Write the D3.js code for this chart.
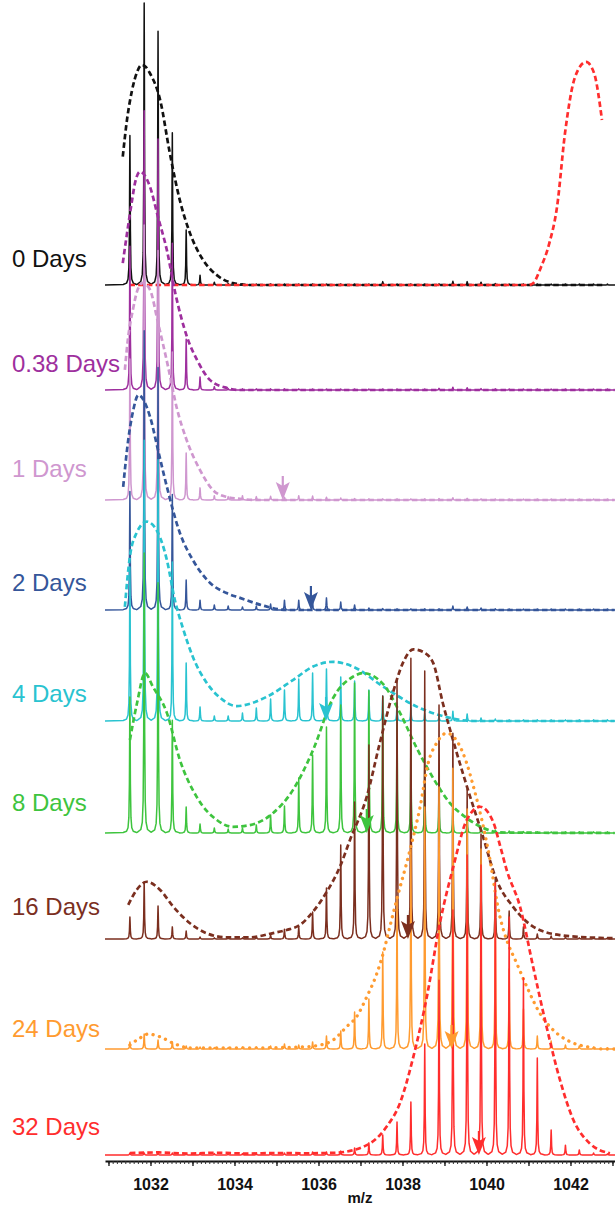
<!DOCTYPE html>
<html>
<head>
<meta charset="utf-8">
<script src="https://cdn.jsdelivr.net/npm/d3@7"></script>
<style>
  body { margin: 0; background: #fff; }
  svg { display: block; }
</style>
</head>
<body>
<div id="chart"></div>
<script>
// sample names
const days = ["0 Days", "0.38 Days", "1 Days", "2 Days", "4 Days", "8 Days", "16 Days", "24 Days", "32 Days"];
const colors = ["#111111", "#9e2f9e", "#cf97cf", "#35569a", "#29c3d0", "#3ec43e", "#7b2f1f", "#ff9b30", "#ff2d2d"];

// isotope peak positions (m/z, 3+ ion)
const isoMz = [1031.51, 1031.85, 1032.18, 1032.52, 1032.85, 1033.18, 1033.52, 1033.85, 1034.19, 1034.52,
  1034.86, 1035.19, 1035.53, 1035.86, 1036.19, 1036.53, 1036.86, 1037.20, 1037.53, 1037.87,
  1038.20, 1038.53, 1038.87, 1039.20, 1039.54, 1039.87, 1040.21, 1040.54, 1040.88, 1041.21,
  1041.54, 1041.88, 1042.21, 1042.55, 1042.88];

// peak intensities (relative %), one per isotope peak
const spec0d   = [53, 100, 90, 54, 19.5, 3.5, 1, 0.5, 0.4, 0.3, 0.3, 0.3, 0.3, 0.3, 0.3, 0.3, 0.3, 0.3, 1.2, 0.3, 0.3, 0.3, 0.4, 1.3, 1.2, 1.0, 0.5, 0.3, 0.3, 0.3, 0.3, 0.3, 0.3, 0.3, 0.3];
const spec038d = [51, 99, 89, 52, 18, 4.6, 1.2, 0.5, 0.4, 0.4, 0.4, 0.4, 0.4, 0.3, 0.3, 0.3, 0.3, 0.3, 0.3, 0.3, 0.3, 0.3, 0.6, 1.0, 0.8, 0.5, 0.4, 0.3, 0.3, 0.3, 0.3, 0.3, 0.3, 0.3, 0.3];
const spec1d   = [50, 97.5, 88.5, 52.5, 16.7, 4.3, 1.5, 1.2, 1.5, 1.2, 1.3, 1.0, 1.5, 1.4, 1.0, 0.7, 0.5, 0.4, 0.4, 0.4, 0.4, 0.4, 0.5, 0.8, 0.6, 0.4, 0.3, 0.3, 0.3, 0.3, 0.3, 0.3, 0.3, 0.3, 0.3];
const spec2d   = [42, 99, 86, 41, 10.6, 3.5, 1.8, 1.4, 1.1, 1.4, 2.1, 3.5, 3.5, 2.8, 4.3, 2.8, 1.8, 0.7, 0.5, 0.4, 0.4, 0.4, 0.4, 1.4, 1.1, 0.7, 0.4, 0.3, 0.3, 0.3, 0.3, 0.3, 0.3, 0.3, 0.3];
const spec4d   = [54.6, 99.6, 92.6, 56.4, 20.6, 5, 1.8, 1.8, 2.8, 4.6, 7.8, 11, 14.9, 17, 18.4, 15.6, 14.2, 11, 8.9, 6.4, 4.6, 2.8, 1.8, 3.5, 2.5, 1.1, 0.7, 0.4, 0.4, 0.4, 0.4, 0.4, 0.4, 0.4, 0.4];
const spec8d   = [48.2, 99.3, 88.7, 40, 9.2, 3.2, 1.8, 1.4, 1.8, 2.8, 6.4, 9.6, 19.5, 27.7, 37.6, 45.4, 53.2, 50.4, 48.2, 40.8, 31.2, 23.4, 16, 8.9, 6.4, 2.1, 1.1, 0.7, 0.5, 0.4, 0.4, 0.4, 0.4, 0.4, 0.4];
const spec16d  = [7.8, 20.2, 11.7, 4.3, 2.8, 0.7, 0.4, 0.4, 0.4, 0.7, 1.4, 3.5, 4.3, 9.6, 18.1, 33.3, 48.6, 68.8, 86.2, 91.5, 99.6, 95, 83, 73, 53.2, 37.2, 21.3, 9.9, 4.3, 1.8, 1.1, 0.7, 0.4, 0.4, 0.4];
const spec24d  = [2.5, 5.3, 3.2, 2.5, 1.1, 0.7, 0.5, 0.5, 0.7, 0.7, 1.1, 1.8, 1.4, 2.5, 4.6, 6.4, 13.1, 17.7, 34.4, 53.2, 70.9, 85.8, 92.9, 99.6, 85.1, 70.9, 49.6, 28.4, 14.2, 4.6, 2.8, 1.4, 1.1, 0.7, 0.4];
const spec32d  = [0.7, 0.7, 0.7, 0.7, 0.5, 0.5, 0.5, 0.5, 0.5, 0.5, 0.5, 0.7, 0.7, 1.1, 1.1, 1.4, 2.5, 4.3, 7.1, 11.7, 18.8, 39.4, 62, 86.9, 106.4, 102.8, 96.5, 84.4, 62.8, 34.4, 8.9, 3.5, 1.8, 0.7, 0.4];

// fitted envelopes [m/z, intensity]
const env0d = [[1031.34,45.5],[1031.44,58.5],[1031.56,69],[1031.68,75.5],[1031.79,78],[1031.89,77.3],[1031.99,75],[1032.23,65.6],[1032.46,46.8],[1032.70,30],[1032.94,18.4],[1033.25,8.9],[1033.58,3.5],[1033.96,0.7],[1034.37,0],[1038.5,0],[1042.80,0]];
const env038d = [[1031.34,45],[1031.43,54.4],[1031.55,66.2],[1031.63,73.3],[1031.75,77.4],[1031.99,72],[1032.18,61.3],[1032.39,49.6],[1032.59,34.4],[1032.87,18.8],[1033.11,10.6],[1033.42,3.5],[1033.82,0.7],[1034.13,0],[1038.5,0],[1043.05,0]];
const env1d = [[1031.39,46.1],[1031.46,56.7],[1031.58,67.4],[1031.70,74.8],[1031.82,77],[1031.99,74.5],[1032.18,62.8],[1032.42,47.2],[1032.62,33],[1032.86,21.3],[1033.18,10.6],[1033.49,3.5],[1033.81,1.1],[1034.13,0.4],[1034.6,0],[1043.05,0]];
const env2d = [[1031.35,43.7],[1031.47,60.3],[1031.59,70.9],[1031.71,76.2],[1031.99,68.5],[1032.18,56.7],[1032.39,43.7],[1032.70,27.3],[1033.01,17.7],[1033.42,9.6],[1033.81,6],[1034.13,4.3],[1034.77,1.2],[1035.24,0],[1043.05,0]];
const env4d = [[1031.39,40.5],[1031.51,58.3],[1031.67,66.7],[1031.91,70.7],[1032.18,66.7],[1032.39,57.1],[1032.58,42.9],[1032.77,33],[1033.01,22.7],[1033.34,13.5],[1033.66,8.2],[1034.05,5.3],[1034.77,8.6],[1035.39,14.5],[1035.87,19.3],[1036.35,21],[1036.82,19.3],[1037.54,12.2],[1038.34,5.1],[1039.13,1.1],[1039.68,0],[1043.05,0]];
const env8d = [[1031.51,33],[1031.68,46.1],[1031.87,56.7],[1032.06,51.8],[1032.39,42.6],[1032.70,25.9],[1033.10,12.8],[1033.58,4.6],[1033.96,2.2],[1034.37,2.8],[1034.92,7.1],[1035.39,15.2],[1035.87,29.4],[1036.35,47.9],[1036.82,55.4],[1037.06,56.7],[1037.54,52.8],[1037.94,42.6],[1038.34,30.1],[1038.73,19.5],[1039.13,10.6],[1039.53,5.3],[1039.92,1.8],[1040.32,0.2],[1043.05,0]];
const env16d = [[1031.47,12.1],[1031.67,17.4],[1031.91,20.3],[1032.23,17.4],[1032.54,11.5],[1032.94,5.6],[1033.34,2],[1033.81,0.6],[1034.37,0.6],[1034.92,2.1],[1035.24,3.2],[1035.56,5],[1035.87,9.7],[1036.20,16.8],[1036.51,25.6],[1036.75,35.1],[1037.15,50.5],[1037.46,69.5],[1037.77,87.2],[1038.01,97.9],[1038.26,102.7],[1038.49,101.8],[1038.73,97.9],[1038.96,83.7],[1039.29,66.1],[1039.61,50.5],[1039.89,37.6],[1040.24,20.9],[1040.63,11.5],[1041.11,4.4],[1041.75,1.4],[1042.70,0.4],[1043.05,0.3]];
const env24d = [[1031.51,1.4],[1031.75,3.9],[1031.94,5.3],[1032.23,4.3],[1032.58,1.8],[1032.94,0.4],[1034.37,0.4],[1035.56,0.7],[1036.04,1.4],[1036.35,3.2],[1036.67,7.9],[1036.91,11.5],[1037.15,18.5],[1037.39,26.8],[1037.54,33.9],[1037.70,43.4],[1037.86,52.8],[1038.18,70.6],[1038.42,85.9],[1038.61,101.3],[1038.81,108.4],[1039.05,112],[1039.33,108.4],[1039.53,101.3],[1039.69,93],[1039.89,81.2],[1040.04,70.6],[1040.32,46.9],[1040.48,38.7],[1040.72,30.4],[1040.96,22.1],[1041.27,12.7],[1041.59,6.7],[1041.99,2.6],[1042.39,0.8],[1042.86,0],[1043.05,0]];
const env32d = [[1031.51,0.7],[1032.2,0.9],[1032.9,0.5],[1033.6,0.8],[1034.3,0.5],[1035.0,0.7],[1035.7,0.6],[1036.4,0.8],[1037.15,3.5],[1037.62,10],[1037.94,18.4],[1038.26,34.9],[1038.58,56.1],[1038.89,82.2],[1039.21,102.2],[1039.53,118.8],[1039.85,123.5],[1040.16,118.1],[1040.32,109.9],[1040.48,101.1],[1040.80,88],[1041.11,66.8],[1041.43,45.5],[1041.75,26.6],[1042.07,12.4],[1042.46,4.1],[1042.94,0.6]];

// theoretical fully exchanged distribution, drawn on the 0 Days trace
const theory0d = [[1031.5,0],[1036,0],[1040.99,0],[1041.1,0.5],[1041.3,6.4],[1041.5,15],[1041.68,27.7],[1041.87,53.9],[1042.11,73.8],[1042.37,79.1],[1042.56,75.2],[1042.75,58.5]];

// centroid arrows (m/z), none for the first two
const centroids = [null, null, 1035.15, 1035.82, 1036.18, 1037.15, 1038.13, 1039.17, 1039.82];

const tickLabels = [1032, 1034, 1036, 1038, 1040, 1042];

const specs = [spec0d, spec038d, spec1d, spec2d, spec4d, spec8d, spec16d, spec24d, spec32d];
const envs = [env0d, env038d, env1d, env2d, env4d, env8d, env16d, env24d, env32d];

// layout
const W = 615, H = 1206;
const baseY = [285, 390, 500, 610, 721, 833, 939, 1049, 1155];
const labelY = [267, 372, 477, 591, 702, 811, 915, 1037, 1135];
const axisY = 1161;

const svg = d3.select("#chart").append("svg")
    .attr("width", W)
    .attr("height", H);

const x = d3.scaleLinear()
  .domain([1030.917, 1043.06])
  .range([105, 615]);

// peak shape (narrow lorentzian around each isotope)
const gam = 0.009;
const offs = [-0.16, -0.08, -0.045, -0.025, -0.012, -0.005, 0, 0.005, 0.012, 0.025, 0.045, 0.08, 0.16];
function profile(vals) {
  const pts = [[x.domain()[0], 0]];
  vals.forEach((v, k) => {
    offs.forEach(d => pts.push([isoMz[k] + d, v * gam * gam / (gam * gam + d * d)]));
  });
  pts.push([x.domain()[1], 0]);
  return pts;
}

const traces = svg.append("g");
const arrows = svg.append("g");

specs.forEach((vals, i) => {
  const y = d3.scaleLinear().domain([0, 100]).range([baseY[i], baseY[i] - 282]);
  const line = d3.line().x(d => x(d[0])).y(d => y(d[1]));
  const g = traces.append("g");

  g.append("path")
    .datum(profile(vals))
    .attr("d", line)
    .attr("fill", "none")
    .attr("stroke", colors[i])
    .attr("stroke-width", 1.5)
    .attr("stroke-linejoin", "round");

  const dotted = i === 7;
  g.append("path")
    .datum(envs[i])
    .attr("d", line.curve(d3.curveMonotoneX))
    .attr("fill", "none")
    .attr("stroke", colors[i])
    .attr("stroke-width", dotted ? 3.3 : 2.7)
    .attr("stroke-linecap", dotted ? "round" : "butt")
    .attr("stroke-dasharray", dotted ? "0.1 6.5" : "5.5 3.2");

  if (i === 0) {
    g.append("path")
      .datum(theory0d)
      .attr("d", line.curve(d3.curveMonotoneX))
      .attr("fill", "none")
      .attr("stroke", colors[8])
      .attr("stroke-width", 2.7)
      .attr("stroke-dasharray", "5.5 3.2");
  }

  // centroid arrows sit on top of all traces
  if (centroids[i] != null) {
    const ax = x(centroids[i]), b = baseY[i];
    arrows.append("line")
      .attr("x1", ax).attr("x2", ax)
      .attr("y1", b - 24).attr("y2", b - 12)
      .attr("stroke", colors[i]).attr("stroke-width", 2.2);
    arrows.append("path")
      .attr("d", `M${ax - 7},${b - 18} L${ax},${b - 14} L${ax + 7},${b - 18} L${ax},${b} Z`)
      .attr("fill", colors[i]);
  }

  svg.append("text")
    .attr("x", 12)
    .attr("y", labelY[i])
    .attr("fill", colors[i])
    .style("font-family", "'Liberation Sans', Arial, sans-serif")
    .style("font-size", "24px")
    .text(days[i]);
});

// x axis
const minor = svg.append("g")
  .attr("transform", `translate(0, ${axisY})`)
  .call(d3.axisBottom(x)
    .tickValues(d3.range(10310, 10431).map(d => d / 10))
    .tickSize(3)
    .tickSizeOuter(0)
    .tickFormat(""));
minor.select(".domain").attr("stroke-width", 2.2).attr("stroke", "#111");
minor.selectAll(".tick line").attr("stroke", "#333");

const major = svg.append("g")
  .attr("transform", `translate(0, ${axisY})`)
  .call(d3.axisBottom(x)
    .tickValues(d3.range(1031, 1044))
    .tickSize(5)
    .tickSizeOuter(0)
    .tickFormat(""));
major.select(".domain").remove();
major.selectAll(".tick line").attr("stroke", "#111").attr("stroke-width", 1.3);

const labels = svg.append("g")
  .attr("transform", `translate(0, ${axisY})`)
  .call(d3.axisBottom(x)
    .tickValues(tickLabels)
    .tickSize(0)
    .tickPadding(18)
    .tickFormat(d3.format("d")));
labels.select(".domain").remove();
labels.selectAll("text")
  .attr("fill", "#111")
  .style("font-family", "'Liberation Sans', Arial, sans-serif")
  .style("font-size", "16px")
  .style("font-weight", "bold");

svg.append("text")
  .attr("x", 360)
  .attr("y", 1203)
  .attr("text-anchor", "middle")
  .attr("fill", "#111")
  .style("font-family", "'Liberation Sans', Arial, sans-serif")
  .style("font-size", "15px")
  .style("font-weight", "bold")
  .text("m/z");
</script>
</body>
</html>
